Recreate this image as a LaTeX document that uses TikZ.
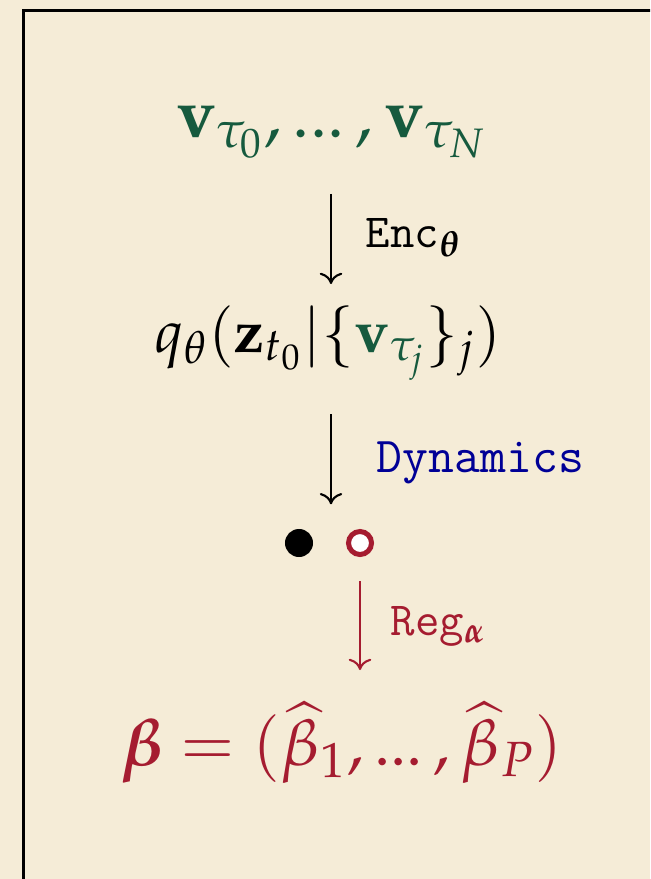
\documentclass[tikz,border=0pt]{standalone}
\usepackage{amsmath,amssymb}
\usepackage{mathpazo}
\usepackage{xcolor}
\usepackage{tikz}
\usetikzlibrary{calc,arrows.meta}

\definecolor{paper}{RGB}{245,236,215}
\definecolor{vgreen}{RGB}{22,90,62}
\definecolor{dynblue}{RGB}{0,0,150}
\definecolor{regred}{RGB}{165,28,48}

\newcommand{\tdots}{\mathinner{...}}

\begin{document}
\begin{tikzpicture}[
		x=0.01cm, y=-0.01cm,
		formula/.style={
			anchor=base,
			inner sep=0pt,
			font=\fontsize{18.5}{22}\selectfont
		},
		steplabel/.style={
			anchor=base west,
			inner sep=0pt,
			font=\fontsize{13.5}{16}\selectfont\ttfamily
		},
		dot/.style={circle, inner sep=0pt},
		arrow/.style={-{To[length=3.2pt,width=6.4pt]}, line width=0.6pt}
		]
		
		% Background and frame
		\fill[paper] (0,0) rectangle (650,879);
		\useasboundingbox (0,0) rectangle (650,879);
		\begin{scope}
			\clip (0,0) rectangle (650,879);
			\draw[line width=0.03cm] (23.5,10.5) rectangle (700,950);
		\end{scope}
		
		% Observations
		\node[formula, text=vgreen, font=\fontsize{19.5}{23}\selectfont] (vs) at (332,137) {
			$\mathbf{v}_{\tau_0},\tdots,\mathbf{v}_{\tau_N}$
		};
		
		% Posterior
		\node[formula, font=\fontsize{17}{20}\selectfont] (qz) at (328,352) {
			$q_\theta(\mathbf{z}_{t_0}|\{\textcolor{vgreen}{\mathbf{v}_{\tau_j}}\}_j)$
		};
		
		% States
		\node[dot, fill=black, minimum size=0.28cm] (zdet) at (299,543) {};
		\node[dot, draw=regred, fill=white, line width=0.05cm,
			minimum size=0.23cm] (zreg) at (360,543) {};
		
		% Coefficients
		\node[formula, text=regred] (beta) at (342,765) {
			$\boldsymbol{\beta}=(\widehat{\beta}_1,\tdots,\widehat{\beta}_P)$
		};
		
		% Step labels
		\node[steplabel] (enc) at (365,248) {Enc$_{\boldsymbol{\theta}}$};
		\node[steplabel, text=dynblue, font=\fontsize{14.3}{17}\selectfont\ttfamily]
			(dyn) at (376,472) {Dynamics};
		\node[steplabel, text=regred] (reg) at (390,635) {Reg$_{\boldsymbol{\alpha}}$};
		
		% Arrows
		\coordinate (axis) at (331,0);
		\draw[arrow] ($(vs.base -| axis)+(0,57)$) -- ($(qz.base -| axis)+(0,-68)$);
		\draw[arrow] ($(qz.base -| axis)+(0,62)$) -- ($(zdet.north -| axis)+(0,-24)$);
		\draw[arrow, regred] ($(zreg.south)+(0,24)$) -- ($(beta.base -| zreg)+(0,-95)$);
		
	\end{tikzpicture}
\end{document}
